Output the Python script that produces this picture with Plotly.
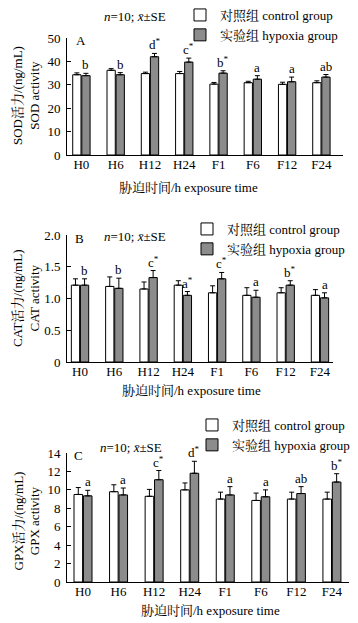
import plotly.graph_objects as go

categories = ["H0", "H6", "H12", "H24", "F1", "F6", "F12", "F24"]

sod_control = [34.3, 36.2, 34.8, 34.8, 30.3, 30.9, 30.2, 30.9]
sod_control_se = [0.8, 0.7, 0.6, 0.9, 0.7, 0.6, 0.9, 0.8]
sod_hypoxia = [33.9, 34.3, 42.0, 39.7, 35.0, 32.4, 31.3, 33.3]
sod_hypoxia_se = [1.0, 0.9, 1.4, 1.7, 1.0, 1.5, 2.0, 1.1]
sod_letters = ["b", "b", "d*", "c*", "b*", "a", "a", "ab"]

cat_control = [1.21, 1.19, 1.15, 1.21, 1.09, 1.05, 1.09, 1.05]
cat_control_se = [0.10, 0.15, 0.11, 0.07, 0.11, 0.12, 0.08, 0.09]
cat_hypoxia = [1.21, 1.16, 1.33, 1.05, 1.31, 1.02, 1.21, 1.01]
cat_hypoxia_se = [0.10, 0.16, 0.11, 0.06, 0.10, 0.11, 0.07, 0.08]
cat_letters = ["b", "b", "c*", "a*", "c*", "a", "b*", "a"]

gpx_control = [9.5, 9.8, 9.3, 10.0, 9.0, 8.85, 9.0, 9.0]
gpx_control_se = [0.75, 0.75, 0.75, 0.75, 0.75, 0.8, 0.75, 0.75]
gpx_hypoxia = [9.35, 9.45, 11.1, 11.8, 9.45, 9.25, 9.6, 10.85]
gpx_hypoxia_se = [0.6, 0.75, 1.0, 1.3, 0.9, 0.75, 0.75, 0.9]
gpx_letters = ["a", "a", "c*", "d*", "a", "a", "ab", "b*"]

W, H = 358, 623
FONT = "Liberation Serif, 'Noto Serif CJK SC', 'Noto Sans CJK SC', serif"


def px(x):
    return x / W


def py(y):
    return 1 - y / H


panels = [
    dict(ctrl=sod_control, ctrl_se=sod_control_se, hyp=sod_hypoxia, hyp_se=sod_hypoxia_se,
         letters=sod_letters, xdom=(67, 343), ytop=38, ybot=155, yrange=(0, 50),
         tickvals=[0, 10, 20, 30, 40, 50], ticktext=["0", "10", "20", "30", "40", "50"],
         xrange=(-0.42, 7.63), tag="A", tagpos=(81, 41), npos=(134.5, 16),
         ytitle="SOD活力/(ng/mL)<br>SOD activity", ytpos=(26, 96), xtpos=(188.5, 188),
         legpos=(180, 0)),
    dict(ctrl=cat_control, ctrl_se=cat_control_se, hyp=cat_hypoxia, hyp_se=cat_hypoxia_se,
         letters=cat_letters, xdom=(67, 333), ytop=235, ybot=362, yrange=(0, 2.0),
         tickvals=[0, 0.5, 1.0, 1.5, 2.0], ticktext=["0", "0.5", "1.0", "1.5", "2.0"],
         xrange=(-0.38, 7.38), tag="B", tagpos=(79, 239), npos=(134.5, 237),
         ytitle="CAT活力/(ng/mL)<br>CAT activity", ytpos=(26, 298), xtpos=(191.5, 390),
         legpos=(187, 214)),
    dict(ctrl=gpx_control, ctrl_se=gpx_control_se, hyp=gpx_hypoxia, hyp_se=gpx_hypoxia_se,
         letters=gpx_letters, xdom=(67, 349), ytop=453, ybot=582, yrange=(0, 14),
         tickvals=[0, 2, 4, 6, 8, 10, 12, 14], ticktext=["0", "2", "4", "6", "8", "10", "12", "14"],
         xrange=(-0.45, 7.48), tag="C", tagpos=(78, 455), npos=(131, 447),
         ytitle="GPX活力/(ng/mL)<br>GPX activity", ytpos=(26, 521.5), xtpos=(210, 610),
         legpos=(192, 410)),
]

fig = go.Figure()
annotations = []
layout_axes = {}
xpos = list(range(len(categories)))
HYP_OFF = 0.1325

for k, p in enumerate(panels):
    sfx = "" if k == 0 else str(k + 1)
    xa, ya = "x" + sfx, "y" + sfx
    leg = "legend" + sfx
    fig.add_trace(go.Bar(
        x=xpos, y=p["ctrl"], name="对照组 control group", xaxis=xa, yaxis=ya, legend=leg,
        marker=dict(color="white", line=dict(color="black", width=1)),
        error_y=dict(type="data", array=p["ctrl_se"], arrayminus=[0] * 8, symmetric=False,
                     color="black", thickness=1, width=2.5),
        offsetgroup="c"))
    fig.add_trace(go.Bar(
        x=xpos, y=p["hyp"], name="实验组 hypoxia group", xaxis=xa, yaxis=ya, legend=leg,
        marker=dict(color="#8c8c8c", line=dict(color="black", width=1)),
        error_y=dict(type="data", array=p["hyp_se"], arrayminus=[0] * 8, symmetric=False,
                     color="black", thickness=1, width=2.5),
        offsetgroup="h"))

    layout_axes["xaxis" + sfx] = dict(
        domain=[px(p["xdom"][0]), px(p["xdom"][1])], anchor=ya, range=list(p["xrange"]),
        tickvals=xpos, ticktext=categories, ticks="", showline=True, linecolor="black",
        linewidth=1, showgrid=False, zeroline=False, ticklabelstandoff=-3,
        tickfont=dict(family=FONT, size=13, color="black"))
    layout_axes["yaxis" + sfx] = dict(
        domain=[py(p["ybot"]), py(p["ytop"])], anchor=xa, range=list(p["yrange"]),
        tickvals=p["tickvals"], ticktext=p["ticktext"], ticks="inside", ticklen=4,
        tickcolor="black", showline=True, linecolor="black", linewidth=1,
        showgrid=False, zeroline=False, ticklabelstandoff=3,
        tickfont=dict(family=FONT, size=13, color="black"))
    layout_axes[leg] = dict(
        x=px(p["legpos"][0]), y=py(p["legpos"][1]), xanchor="left", yanchor="top",
        bgcolor="rgba(0,0,0,0)", font=dict(family=FONT, size=13, color="black"),
        itemwidth=30, tracegroupgap=0)

    for i, letter in enumerate(p["letters"]):
        txt = letter.replace("*", "<sup>*</sup>")
        annotations.append(dict(
            x=i + HYP_OFF, y=p["hyp"][i] + p["hyp_se"][i], xref=xa, yref=ya,
            text=txt, showarrow=False, xanchor="center", yanchor="bottom", yshift=-1,
            font=dict(family=FONT, size=13, color="black")))

    annotations.append(dict(x=px(p["tagpos"][0]), y=py(p["tagpos"][1]), xref="paper", yref="paper",
                            text=p["tag"], showarrow=False, xanchor="center", yanchor="middle",
                            font=dict(family=FONT, size=13, color="black")))
    annotations.append(dict(x=px(p["npos"][0]), y=py(p["npos"][1]), xref="paper", yref="paper",
                            text="<i>n</i>=10; <i>x̄</i>±SE", showarrow=False,
                            xanchor="center", yanchor="middle",
                            font=dict(family=FONT, size=13, color="black")))
    annotations.append(dict(x=px(p["ytpos"][0]), y=py(p["ytpos"][1]), xref="paper", yref="paper",
                            text=p["ytitle"], textangle=-90, showarrow=False,
                            xanchor="center", yanchor="middle",
                            font=dict(family=FONT, size=13, color="black")))
    annotations.append(dict(x=px(p["xtpos"][0]), y=py(p["xtpos"][1]), xref="paper", yref="paper",
                            text="胁迫时间/h exposure time", showarrow=False,
                            xanchor="center", yanchor="middle",
                            font=dict(family=FONT, size=13, color="black")))

fig.update_layout(
    width=W, height=H, margin=dict(l=0, r=0, t=0, b=0, autoexpand=False),
    paper_bgcolor="white", plot_bgcolor="white",
    barmode="group", bargap=0.47, bargroupgap=0.09,
    annotations=annotations, showlegend=True,
    font=dict(family=FONT, size=13, color="black"),
    **layout_axes)

fig.write_html("out.html", config={"displayModeBar": False},
               post_script="document.body.style.margin='0px';")
